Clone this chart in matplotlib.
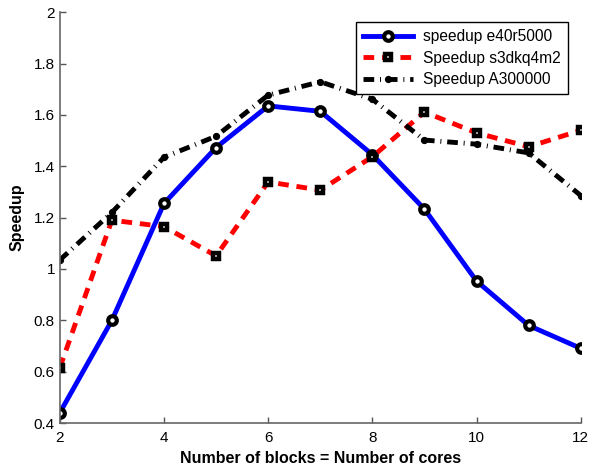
import numpy as np
from matplotlib import pyplot as plt
from matplotlib.ticker import FixedLocator

plt.rcParams['font.family'] = ['Liberation Sans', 'DejaVu Sans']

# number of blocks (= number of cores)
blocks = [2, 3, 4, 5, 6, 7, 8, 9, 10, 11, 12]

speedup_e40 = [0.44, 0.80, 1.255, 1.473, 1.635, 1.614, 1.445, 1.233, 0.953, 0.780, 0.691]
speedup_s3d = [0.615, 1.19, 1.165, 1.051, 1.339, 1.307, 1.437, 1.611, 1.530, 1.476, 1.540]
speedup_a300 = [1.035, 1.22, 1.435, 1.517, 1.677, 1.729, 1.661, 1.502, 1.486, 1.452, 1.286]

xtick_vals = [2, 4, 6, 8, 10, 12]
ytick_vals = [0.4, 0.6, 0.8, 1.0, 1.2, 1.4, 1.6, 1.8, 2.0]
ytick_labels = ['0.4', '0.6', '0.8', '1', '1.2', '1.4', '1.6', '1.8', '2']

fig = plt.figure(figsize=(5.92, 4.68), dpi=100)
ax = fig.add_axes([0.101, 0.096, 0.880, 0.878])

ax.plot(blocks, speedup_e40, color='blue', linewidth=3.5, marker='o',
        markersize=6.2, markerfacecolor='white', markeredgecolor='black',
        markeredgewidth=3, label='speedup e40r5000')
ax.plot(blocks, speedup_s3d, color='red', linewidth=3.5, linestyle=(0, (2.2, 1.6)),
        marker='s', markersize=4.8, markerfacecolor='white', markeredgecolor='black',
        markeredgewidth=3.2, label='Speedup s3dkq4m2')
ax.plot(blocks, speedup_a300, color='black', linewidth=3.5,
        linestyle=(0, (2.2, 1.2, 0.2, 1.2)), marker='o', markersize=4.2,
        markerfacecolor='black', markeredgecolor='black', markeredgewidth=1,
        label='Speedup A300000')

ax.set_xlim(2, 12)
ax.set_ylim(0.4, 2)
ax.xaxis.set_major_locator(FixedLocator(xtick_vals))
ax.set_yticks(ytick_vals)
ax.set_yticklabels(ytick_labels)
ax.tick_params(direction='in', length=4, width=1, color='#555555', labelsize=11)
ax.tick_params(axis='x', pad=6)
ax.tick_params(axis='y', pad=3.5)

for side in ['top', 'right']:
    ax.spines[side].set_visible(False)
for side in ['left', 'bottom']:
    ax.spines[side].set_color('#666666')
    ax.spines[side].set_linewidth(1.2)

ax.set_xlabel('Number of blocks = Number of cores', fontsize=11.5, fontweight='bold', labelpad=4)
ax.set_ylabel('Speedup', fontsize=11.5, fontweight='bold', labelpad=7)

leg = ax.legend(loc='upper right', bbox_to_anchor=(0.975, 0.976), fontsize=11.2,
                fancybox=False, framealpha=1, edgecolor='black',
                handlelength=3.2, borderpad=0.45, labelspacing=0.42,
                handletextpad=0.65, borderaxespad=0)
leg.get_frame().set_linewidth(1.0)

fig.savefig('out.png', dpi=100)
